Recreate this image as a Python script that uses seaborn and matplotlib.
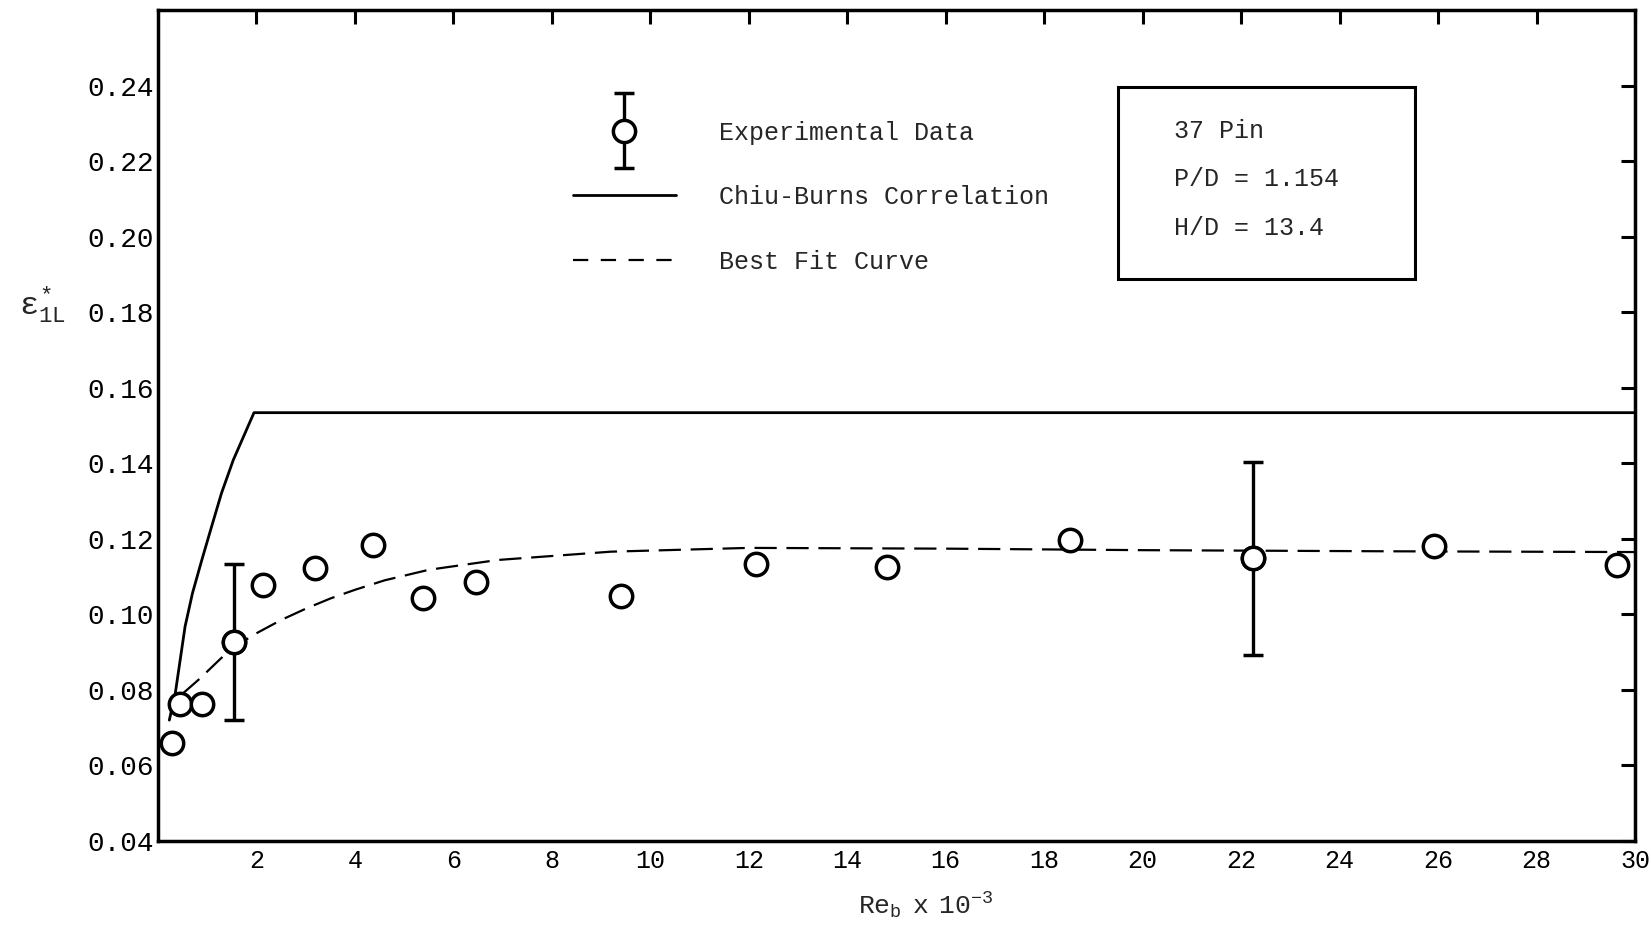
import matplotlib
matplotlib.use('Agg')
import matplotlib.pyplot as plt
from matplotlib.patches import Rectangle
from matplotlib.container import ErrorbarContainer
from matplotlib.legend_handler import HandlerErrorbar
import pandas as pd
import seaborn as sns

# experimentella punkter (Re_b x 1e-3, eps*_1L)
re_exp = [0.28, 0.45, 0.89, 1.54, 2.13, 3.19, 4.37, 5.39, 6.46, 9.41,
          12.15, 14.80, 18.52, 22.24, 25.92, 29.64]
eps_exp = [0.0660, 0.0762, 0.0762, 0.0927, 0.1078, 0.1122, 0.1184, 0.1043,
           0.1087, 0.1048, 0.1134, 0.1126, 0.1196, 0.1148, 0.1182, 0.1132]

# punkter med felstaplar
re_err = [1.54, 22.24]
eps_err = [0.0927, 0.1148]
err_half = [0.0206, 0.0256]

# Chiu-Burns korrelation
re_cb = [0.23, 0.35, 0.45, 0.55, 0.70, 0.89, 1.09, 1.29, 1.53, 1.95, 30.0]
eps_cb = [0.0720, 0.0790, 0.0879, 0.0968, 0.1056, 0.1144, 0.1233, 0.1321,
          0.1409, 0.1534, 0.1534]

# best fit kurva
re_fit = [0.5, 0.85, 1.25, 1.5, 2.0, 2.5, 3.0, 3.5, 4.0, 4.6, 5.5, 6.9,
          9.2, 12.0, 16.0, 20.0, 25.0, 30.0]
eps_fit = [0.0790, 0.0830, 0.0880, 0.0910, 0.0950, 0.0985, 0.1015, 0.1042,
           0.1065, 0.1090, 0.1118, 0.1144, 0.1166, 0.1176, 0.1174, 0.1170,
           0.1167, 0.1165]

x_ticks = list(range(2, 31, 2))
y_ticks = [0.04, 0.06, 0.08, 0.10, 0.12, 0.14, 0.16, 0.18, 0.20, 0.22, 0.24]
y_ticklabels = ['0.04', '0.06', '0.08', '0.10', '0.12', '0.14', '0.16',
                '0.18', '0.20', '0.22', '0.24']

box_lines = ['37 Pin', 'P/D = 1.154', 'H/D = 13.4']

sns.set_style('white')
plt.rcParams['font.family'] = ['Liberation Mono', 'DejaVu Sans Mono']
plt.rcParams['mathtext.fontset'] = 'custom'
plt.rcParams['mathtext.rm'] = 'Liberation Mono'
plt.rcParams['mathtext.it'] = 'Liberation Mono'
plt.rcParams['lines.scale_dashes'] = False

df_exp = pd.DataFrame({'re': re_exp, 'eps': eps_exp})
df_cb = pd.DataFrame({'re': re_cb, 'eps': eps_cb})
df_fit = pd.DataFrame({'re': re_fit, 'eps': eps_fit})

fig = plt.figure(figsize=(16.51, 9.44), dpi=100)
ax = fig.add_axes([0.0957, 0.1091, 0.8946, 0.8803])

sns.lineplot(data=df_cb, x='re', y='eps', ax=ax, color='black', lw=2.0,
             sort=False, zorder=3, label='Chiu-Burns Correlation')
sns.lineplot(data=df_fit, x='re', y='eps', ax=ax, color='black', lw=1.6,
             sort=False, dashes=False, zorder=3, label='Best Fit Curve')
ax.lines[-1].set_dashes((16, 7))

eb = ax.errorbar(re_err, eps_err, yerr=err_half, fmt='o', ms=16,
                 mfc='white', mec='black', mew=2.5, ecolor='black',
                 elinewidth=2.4, capsize=7, capthick=2.4, zorder=4)

sns.scatterplot(data=df_exp, x='re', y='eps', ax=ax, s=260, marker='o',
                facecolor='white', edgecolor='black', linewidth=2.5,
                zorder=5, legend=False)

ax.set_xlim(0, 30)
ax.set_ylim(0.04, 0.26)
ax.set_xticks(x_ticks)
ax.set_xticklabels([str(t) for t in x_ticks])
ax.set_yticks(y_ticks)
ax.set_yticklabels(y_ticklabels)
ax.tick_params(direction='in', top=True, right=True, length=10, width=2.2,
               colors='black')
ax.tick_params(axis='x', labelsize=18, pad=6)
ax.tick_params(axis='y', labelsize=20, pad=3)
for s in ax.spines.values():
    s.set_linewidth(2.5)
    s.set_color('black')

ax.set_ylabel(r'$\varepsilon^{*}_{1L}$', fontsize=23, rotation=0)
ax.yaxis.set_label_coords(-0.078, 0.645)
ax.yaxis.label.set_va('center')
ax.set_xlabel(r'$\mathrm{Re}_{b}\ \ \mathrm{x}\ \ 10^{-3}$', fontsize=19)
ax.xaxis.set_label_coords(0.52, -0.078)
ax.xaxis.label.set_va('center')

handles, labels = ax.get_legend_handles_labels()
leg_handles = [eb, handles[0], handles[1]]
leg_labels = ['Experimental Data', 'Chiu-Burns Correlation', 'Best Fit Curve']
leg = ax.legend(leg_handles, leg_labels, loc='upper left',
                bbox_to_anchor=(0.281, 0.867), frameon=False, fontsize=18,
                borderpad=0, borderaxespad=0, handlelength=4.1,
                handletextpad=1.75, labelspacing=1.62,
                handler_map={ErrorbarContainer: HandlerErrorbar(yerr_size=1.5)})
leg.get_lines()[-1].set_dashes((11, 9))

ax.add_patch(Rectangle((0.650, 0.676), 0.201, 0.231, transform=ax.transAxes,
                       fill=False, edgecolor='black', lw=2.2, zorder=6))
for txt, yy in zip(box_lines, [0.855, 0.797, 0.738]):
    ax.text(0.688, yy, txt, transform=ax.transAxes, fontsize=18,
            ha='left', va='center')

fig.savefig('out.png', dpi=100, facecolor='white')
